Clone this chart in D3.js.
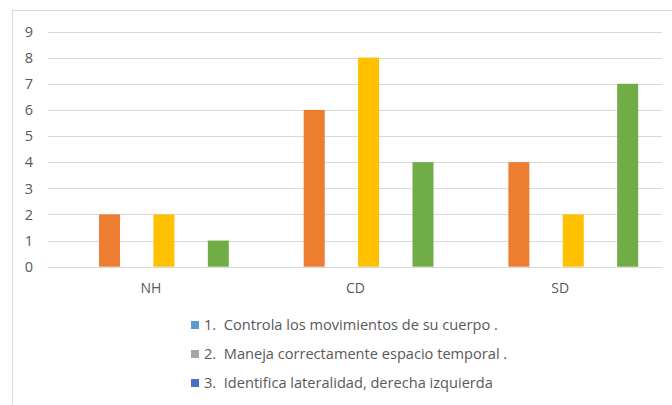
<!DOCTYPE html>
<html><head><meta charset="utf-8">
<script src="https://cdn.jsdelivr.net/npm/d3@7"></script>
<style>body{margin:0;background:#fff}svg{display:block}text{font-family:"Open Sans",sans-serif;white-space:pre}</style>
</head><body>
<svg id="c" width="672" height="405"></svg>
<script>
const categories = ["NH", "CD", "SD"];
const seriesNames = ["1.  Controla los movimientos de su cuerpo .", "s2",
  "2.  Maneja correctamente espacio temporal .", "s4",
  "3.  Identifica lateralidad, derecha izquierda", "s6"];
const seriesColors = ["#5B9BD5", "#ED7D31", "#A5A5A5", "#FFC000", "#4472C4", "#70AD47"];
const values = [
  [0, 0, 0],
  [2, 6, 4],
  [0, 0, 0],
  [2, 8, 2],
  [0, 0, 0],
  [1, 4, 7]
];
const legendSeries = [0, 2, 4];
const yTicks = [0,1,2,3,4,5,6,7,8,9];

const svg = d3.select("#c");
svg.append("rect").attr("x",12.5).attr("y",10.5).attr("width",700).attr("height",420)
  .attr("fill","#fff").attr("stroke","#d9d9d9").attr("stroke-width",1);

const x0 = d3.scaleBand().domain(categories).range([48, 662]).paddingInner(0).paddingOuter(0);
const x1 = d3.scaleBand().domain(d3.range(6)).range([0, x0.bandwidth()]).paddingInner(0.228).paddingOuter(0.877);
const y = d3.scaleLinear().domain([0, 9]).range([266.7, 31.5]);

svg.append("g").selectAll("line").data(yTicks).join("line")
  .attr("x1",48).attr("x2",662).attr("y1",d=>Math.round(y(d))+0.5).attr("y2",d=>Math.round(y(d))+0.5)
  .attr("stroke","#d9d9d9").attr("stroke-width",1);

svg.append("g").selectAll("text").data(yTicks).join("text")
  .attr("x",33).attr("y",d=>y(d)).attr("dy","0.36em").attr("text-anchor","end")
  .attr("font-size",14.5).attr("fill","#595959").text(d=>d);

const g = svg.append("g");
values.forEach((vals, si) => {
  g.selectAll(null).data(vals.map((v,ci)=>({v,ci}))).join("rect")
    .attr("x", d=>x0(categories[d.ci]) + x1(si))
    .attr("width", x1.bandwidth())
    .attr("y", d=>y(d.v))
    .attr("height", d=>y(0)-y(d.v))
    .attr("fill", seriesColors[si]);
});

svg.append("g").selectAll("text").data(categories).join("text")
  .attr("x",d=>x0(d)+x0.bandwidth()/2+0.5).attr("y",287.5).attr("dy","0.36em").attr("text-anchor","middle")
  .attr("font-size",14).attr("fill","#595959").text(d=>d);

const lg = svg.append("g");
const lt = [];
legendSeries.forEach((si,i)=>{
  const yy = 325 + i*29;
  lg.append("rect").attr("x",191).attr("y",yy-4).attr("width",8).attr("height",8).attr("fill",seriesColors[si]);
  lt.push(lg.append("text").attr("x",204).attr("y",yy).attr("dy","0.36em").attr("font-size",13)
    .attr("fill","#595959").text(seriesNames[si]));
});
const w = lt[0].node().getComputedTextLength();
const fs = Math.min(15, 13 * 294 / w);
lt.forEach(t=>t.attr("font-size", fs));
</script>
</body></html>
